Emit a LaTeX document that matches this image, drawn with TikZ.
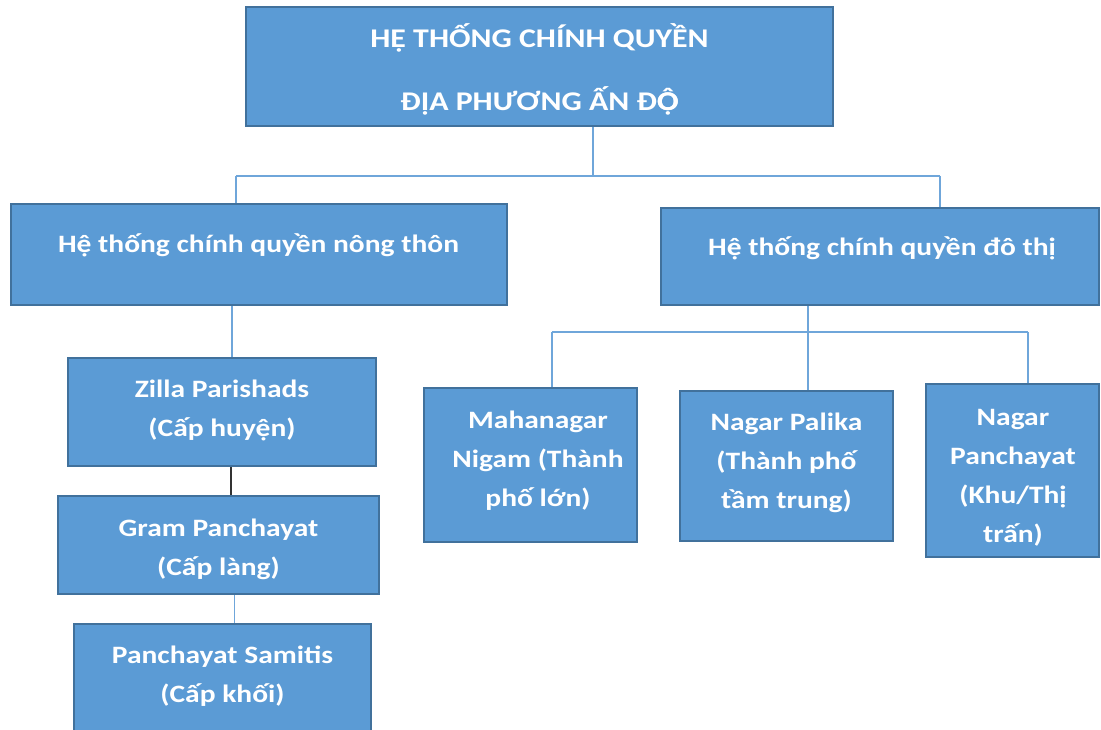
\documentclass[tikz,border=0pt]{standalone}
\usepackage{fontspec}
\setmainfont{Carlito}
\definecolor{boxfill}{HTML}{5B9BD5}
\definecolor{boxline}{HTML}{41719C}
\definecolor{connline}{HTML}{6FA6DA}
\newcommand\sx[1]{\scalebox{1.18}[1]{\begin{tabular}[t]{@{}c@{}}#1\end{tabular}}}
\newcommand\ODOT{\rlap{Ọ}Ô}
\tikzset{
  box/.style={draw=boxline, fill=boxfill, line width=2.5pt, inner sep=0pt},
  txt/.style={text=white, font=\fontsize{25}{39}\selectfont\bfseries, anchor=base, inner sep=0pt},
  bigtxt/.style={txt, font=\fontsize{27}{39}\selectfont\bfseries},
  conn/.style={draw=connline, line width=1.6pt},
  connk/.style={draw=black!80, line width=1.6pt}
}
\begin{document}
\begin{tikzpicture}[x=1pt,y=-1pt]
\useasboundingbox (0,0) rectangle (1101,730);
\clip (0,0) rectangle (1101,730);
% boxes
\node[box, minimum width=587pt, minimum height=119pt] (top) at (539.5,66.5) {};
\node[box, minimum width=496pt, minimum height=101pt] (rural) at (259,254.5) {};
\node[box, minimum width=438pt, minimum height=97pt] (urban) at (880,256.5) {};
\node[box, minimum width=308pt, minimum height=108pt] (zilla) at (222,412) {};
\node[box, minimum width=321pt, minimum height=98pt] (gram) at (218.5,545) {};
\node[box, minimum width=297pt, minimum height=130pt] (samitis) at (222.5,689) {};
\node[box, minimum width=213pt, minimum height=154pt] (maha) at (530.5,465) {};
\node[box, minimum width=213pt, minimum height=150pt] (palika) at (786.5,466) {};
\node[box, minimum width=173pt, minimum height=173pt] (npanch) at (1012.5,470.5) {};
% texts
\node[bigtxt] (ttop) at (539.5,48) {\sx{HỆ THỐNG CHÍNH QUYỀN\\[24pt]ĐỊA PHƯƠNG ẤN Đ\ODOT}};
\node[txt] (trural) at (258.5,253) {\sx{Hệ thống chính quyền nông thôn}};
\node[txt] (turban) at (882,256) {\sx{Hệ thống chính quyền đô thị}};
\node[txt] (tzilla) at (222,397) {\sx{Zilla Parishads\\(Cấp huyện)}};
\node[txt] (tgram) at (218.5,536) {\sx{Gram Panchayat\\(Cấp làng)}};
\node[txt] (tsamitis) at (222.5,663) {\sx{Panchayat Samitis\\(Cấp khối)}};
\node[txt] (tmaha) at (538,428) {\sx{Mahanagar\\Nigam (Thành\\phố lớn)}};
\node[txt] (tpalika) at (786.5,430) {\sx{Nagar Palika\\(Thành phố\\tầm trung)}};
\node[txt] (tnpanch) at (1013,425) {\sx{Nagar\\Panchayat\\(Khu/Thị\\trấn)}};
% connector junctions
\coordinate (j0) at (593,176);
\coordinate (jL) at (236,176);
\coordinate (jR) at (940,176);
\coordinate (k0) at (808,332);
\coordinate (kL) at (552,332);
\coordinate (kR) at (1028,332);
% connectors
\draw[conn] (top.south -| j0) -- (j0);
\draw[conn] (jL) -- (jR);
\draw[conn] (jL) -- (jL |- rural.north);
\draw[conn] (jR) -- (jR |- urban.north);
\draw[conn] (rural.south -| 232,0) -- (zilla.north -| 232,0);
\draw[connk] (zilla.south -| 231,0) -- (gram.north -| 231,0);
\draw[conn] (gram.south -| 234.5,0) -- (samitis.north -| 234.5,0);
\draw[conn] (urban.south -| k0) -- (palika.north -| k0);
\draw[conn] (kL) -- (kR);
\draw[conn] (kL) -- (kL |- maha.north);
\draw[conn] (kR) -- (kR |- npanch.north);
\end{tikzpicture}
\end{document}
